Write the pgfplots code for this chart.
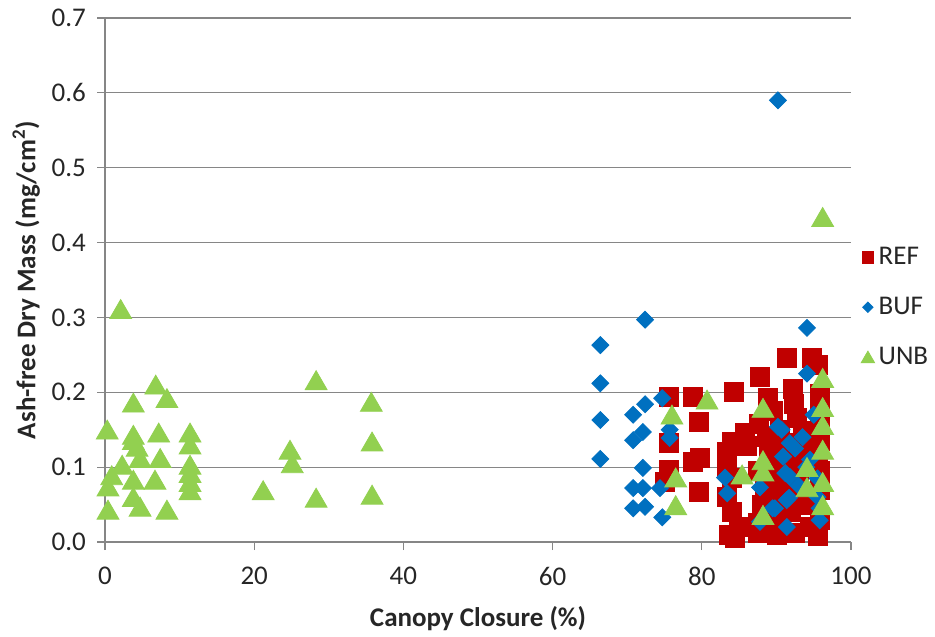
\documentclass[border=0pt]{standalone}
\usepackage{pgfplots}
\pgfplotsset{compat=1.18}
\usepackage{fontspec}
\setmainfont{Carlito}
\definecolor{refc}{RGB}{192,0,0}
\definecolor{bufc}{RGB}{0,112,192}
\definecolor{unbc}{RGB}{146,208,80}
\definecolor{gridc}{RGB}{134,134,134}
\begin{document}
\begin{tikzpicture}
\useasboundingbox (-52.5pt,-47pt) rectangle (415pt,271pt);
\begin{axis}[
  scale only axis, width=373pt, height=262pt,
  xmin=0, xmax=100, ymin=0, ymax=0.7,
  xtick={0,20,40,60,80,100}, ytick={0,0.1,0.2,0.3,0.4,0.5,0.6,0.7},
  axis x line*=bottom, axis y line*=left,
  axis line style={gridc, line width=0.6pt, -},
  ymajorgrids, grid style={gridc, line width=0.6pt},
  tick align=outside, major tick length=4pt,
  tick style={gridc, line width=0.6pt},
  /pgf/number format/assume math mode=true,
  yticklabel style={/pgf/number format/fixed, /pgf/number format/fixed zerofill, /pgf/number format/precision=1, xshift=-2pt},
  ticklabel style={font=\fontsize{13.5}{15}\selectfont, text=black!85},
  xticklabel style={yshift=-5pt},
  xlabel={\textbf{Canopy Closure (\%)}},
  ylabel={\textbf{Ash-free Dry Mass (mg/cm\textsuperscript{2})}},
  label style={font=\fontsize{13.5}{15}\selectfont, text=black!85},
  xlabel style={yshift=-3.5pt},
  ylabel style={yshift=-1pt},
  clip=false,
  legend style={draw=none, fill=none, at={(1.005,0.448)}, anchor=west,
    font=\fontsize{13.5}{15}\selectfont, row sep=10.75pt, text=black!85},
  legend image post style={scale=0.62},
  legend cell align=left,
]
\addplot[only marks, mark=square*, mark size=4.75pt, color=refc] coordinates {
(75.6,0.194) (78.8,0.194) (79.6,0.160) (75.6,0.132) (75.6,0.096) (75.1,0.080)
(78.8,0.107) (79.8,0.112) (79.6,0.067)
(84.3,0.200) (87.8,0.221) (91.4,0.246) (94.8,0.246) (95.6,0.236) (88.9,0.192)
(92.2,0.205) (95.8,0.198) (92.4,0.185) (95.8,0.182) (92.7,0.166) (95.8,0.158)
(89.5,0.175) (87.7,0.158) (85.8,0.146) (84.0,0.134) (83.4,0.120) (86.0,0.128)
(88.7,0.140) (90.5,0.150) (93.5,0.148) (95.8,0.135) (91.0,0.132) (89.0,0.118)
(83.4,0.100) (84.0,0.085) (87.5,0.095) (90.0,0.100) (92.5,0.110) (95.5,0.112)
(94.0,0.125) (95.8,0.095) (93.0,0.090) (91.0,0.080) (88.5,0.075) (83.4,0.060)
(84.0,0.040) (88.0,0.050) (90.0,0.060) (92.5,0.065) (95.8,0.070) (94.5,0.050)
(92.0,0.040) (89.5,0.030) (87.5,0.025) (85.0,0.020) (83.6,0.010) (84.5,0.005)
(87.5,0.012) (90.0,0.010) (92.5,0.012) (94.5,0.020) (95.8,0.030) (95.5,0.008)
(89.5,0.088)
};
\addlegendentry{REF}
\addplot[only marks, mark=square*, mark size=3pt, mark options={rotate=45}, color=bufc] coordinates {
(66.4,0.263) (66.4,0.212) (66.4,0.163) (66.4,0.111) (72.4,0.297) (74.7,0.192)
(72.4,0.184) (70.8,0.170) (72.1,0.147) (70.8,0.136) (75.7,0.139) (75.7,0.150)
(72.1,0.099) (70.8,0.072) (72.1,0.072) (74.4,0.072) (70.8,0.045) (72.4,0.047)
(74.7,0.033) (90.2,0.590) (94.1,0.286) (94.1,0.225) (95.0,0.170) (90.7,0.150)
(91.8,0.132) (90.9,0.114) (91.8,0.087) (91.4,0.056) (89.5,0.045) (91.4,0.020)
(95.8,0.029) (95.8,0.045) (83.1,0.086) (83.4,0.065) (87.8,0.073) (89.8,0.045)
(87.8,0.027) (90.2,0.154) (93.5,0.140) (94.5,0.110) (93.0,0.075) (95.5,0.060)
(94.0,0.100) (92.5,0.125) (95.5,0.085) (91.2,0.092) (91.7,0.059)
};
\addlegendentry{BUF}
\addplot[only marks, mark=triangle*, mark size=6.3pt, mark options={yshift=-1.5pt}, color=unbc] coordinates {
(2.1,0.311) (6.8,0.210) (8.3,0.192) (3.8,0.186) (0.3,0.150) (3.8,0.143)
(7.2,0.146) (11.4,0.146) (11.4,0.130) (4.3,0.127) (3.8,0.136) (7.4,0.112)
(4.7,0.112) (2.3,0.103) (11.4,0.103) (11.4,0.092) (11.4,0.080) (11.4,0.069)
(0.9,0.089) (0.4,0.074) (3.8,0.083) (6.7,0.083) (3.8,0.060) (4.7,0.047)
(0.4,0.043) (8.3,0.043) (24.8,0.123) (25.1,0.105) (21.2,0.069) (28.3,0.216)
(28.3,0.059) (35.7,0.187) (35.8,0.134) (35.8,0.063)
(80.7,0.190) (76.0,0.170) (76.5,0.086) (76.5,0.049) (88.2,0.179) (88.2,0.109)
(88.2,0.094) (85.4,0.090) (88.2,0.036) (96.2,0.434) (96.2,0.219) (96.2,0.180)
(96.2,0.156) (96.2,0.123) (94.1,0.100) (94.1,0.073) (96.2,0.080) (96.2,0.049)
};
\addlegendentry{UNB}
\end{axis}
\end{tikzpicture}
\end{document}
